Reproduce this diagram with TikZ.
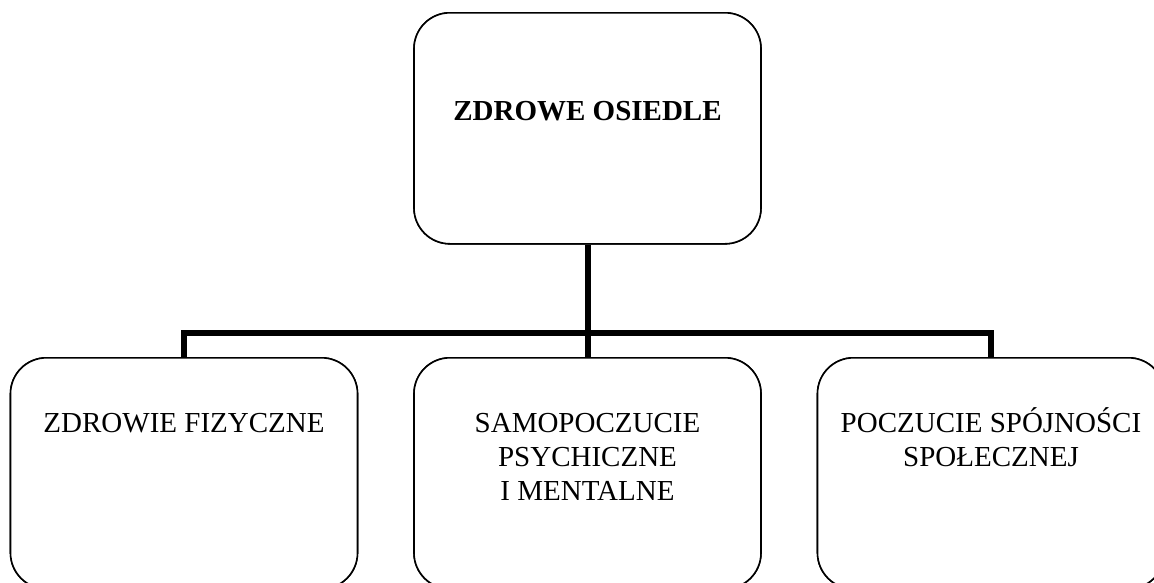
\documentclass[tikz,border=0pt]{standalone}
\usepackage{fontspec}
\setmainfont{Liberation Serif}
\usetikzlibrary{calc}
\tikzset{
  box/.style={draw=black, line width=1.6pt, rounded corners=36pt, fill=white,
    minimum width=347pt, minimum height=231pt, inner sep=0pt, anchor=north},
  txt/.style={anchor=base, align=center, inner sep=0pt,
    font=\fontsize{29}{34}\selectfont},
  conn/.style={line width=6pt, draw=black}
}
\begin{document}
\begin{tikzpicture}[x=1pt,y=1pt]
\useasboundingbox (0,0) rectangle (1154,-582);
\clip (0,0) rectangle (1154,-582);
\fill[white] (0,0) rectangle (1154,-582);
\coordinate (bus) at (0,-333);
% connectors
\node[box] (top) at (587.5,-12) {};
\node[box] (b1) at (184,-357) {};
\node[box] (b2) at (587.5,-357) {};
\node[box] (b3) at (991,-357) {};
\draw[conn] (top.south) -- (top.south |- bus);
\draw[conn] (b1.north) -- (b1.north |- bus) -- (b3.north |- bus) -- (b3.north);
\draw[conn] (b2.north) -- (b2.north |- bus);
% redraw boxes above connectors
\node[box] at (587.5,-12) {};
\node[box] at (184,-357) {};
\node[box] at (587.5,-357) {};
\node[box] at (991,-357) {};
% texts (base = baseline of the last line)
\node[txt, font=\fontsize{29}{34}\selectfont\bfseries] (t0) at ($(top.north)+(0,-108)$) {ZDROWE OSIEDLE};
\node[txt] (t1) at ($(b1.north)+(0,-75)$) {ZDROWIE FIZYCZNE};
\node[txt] (t2) at ($(b2.north)+(0,-143)$) {SAMOPOCZUCIE\\PSYCHICZNE\\I MENTALNE};
\node[txt] (t3) at ($(b3.north)+(0,-109)$) {POCZUCIE SPÓJNOŚCI\\SPOŁECZNEJ};
\end{tikzpicture}
\end{document}
